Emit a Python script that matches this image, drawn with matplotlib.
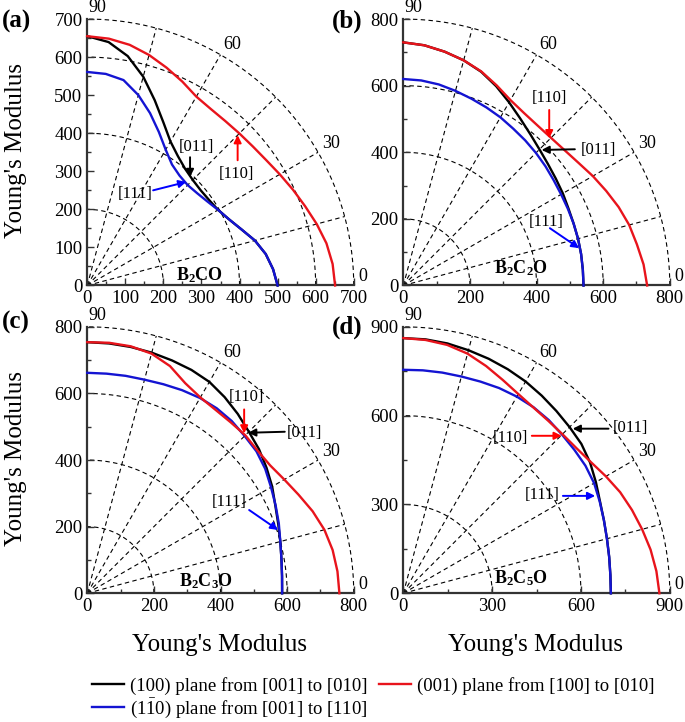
import numpy as np
import matplotlib
matplotlib.use('Agg')
import matplotlib.pyplot as plt
from matplotlib.ticker import MultipleLocator
from matplotlib.lines import Line2D

plt.rcParams['font.family'] = ['Liberation Serif', 'DejaVu Serif']
plt.rcParams['mathtext.fontset'] = 'custom'
plt.rcParams['mathtext.rm'] = 'Liberation Serif'
plt.rcParams['mathtext.it'] = 'Liberation Serif:italic'
plt.rcParams['mathtext.bf'] = 'Liberation Serif:bold'

# direction angle (deg) from x axis, 0..90
angles = [0, 5, 10, 15, 20, 25, 30, 35, 40, 45, 50, 55, 60, 65, 70, 75, 80, 85, 90]

# Young's modulus (GPa) along each angle
a_black = [500, 490, 476, 456, 431, 411, 397, 391, 389, 392, 400, 415, 437, 473, 518, 568, 612, 642, 655]
a_red = [651, 647, 638, 624, 609, 596, 584, 574, 568, 565, 564, 566, 573, 591, 609, 627, 642, 651, 655]
a_blue = [500, 490, 476, 456, 431, 411, 397, 385, 377, 373, 377, 388, 412, 445, 482, 518, 548, 558, 561]

b_black = [541, 541, 542, 543, 544, 547, 553, 559, 567, 578, 593, 612, 635, 660, 683, 700, 713, 724, 730]
b_red = [732, 724, 712, 702, 688, 672, 657, 642, 632, 627, 627, 632, 643, 663, 684, 700, 713, 724, 730]
b_blue = [541, 541, 542, 543, 544, 545, 547, 551, 557, 563, 569, 575, 583, 590, 597, 605, 613, 618, 620]

c_black = [585, 587, 592, 600, 610, 623, 641, 657, 673, 686, 703, 719, 733, 740, 744, 748, 751, 753, 754]
c_red = [757, 754, 748, 737, 720, 700, 683, 670, 667, 671, 670, 672, 679, 696, 726, 745, 753, 755, 754]
c_blue = [585, 587, 592, 600, 612, 624, 637, 652, 663, 668, 675, 678, 677, 673, 668, 664, 663, 662, 662]

d_black = [701, 702, 706, 712, 721, 733, 751, 770, 785, 794, 804, 815, 826, 835, 843, 850, 857, 861, 862]
d_red = [865, 858, 848, 835, 822, 808, 790, 773, 763, 760, 761, 766, 777, 795, 817, 838, 852, 859, 862]
d_blue = [701, 702, 706, 712, 721, 732, 744, 751, 754, 758, 764, 767, 767, 765, 761, 758, 757, 756, 755]

panels = [
    dict(tag='(a)', name=r'$\mathbf{B_2CO}$', lim=700, major=100, arcs=[200, 400, 600, 700],
         curves=[a_black, a_blue, a_red], pos=[0.1274, 0.6046, 0.389, 0.369],
         name_xy=(295, 26), tag_xy=(-0.32, 0.99),
         notes=[('[011]', (286, 364), (270, 337), (270, 285), 'black'),
                ('[110]', (391, 294), (395, 329), (395, 395), 'red'),
                ('[111]', (125, 241), (173, 250), (260, 272), 'blue')]),
    dict(tag='(b)', name=r'$\mathbf{B_2C_2O}$', lim=800, major=200, arcs=[200, 400, 600, 800],
         curves=[b_black, b_blue, b_red], pos=[0.5888, 0.6046, 0.389, 0.369],
         name_xy=(352, 52), tag_xy=(-0.27, 0.99),
         notes=[('[110]', (440, 562), (438, 527), (438, 442), 'red'),
                ('[011]', (585, 407), (515, 409), (415, 407), 'black'),
                ('[111]', (430, 192), (440, 172), (528, 112), 'blue')]),
    dict(tag='(c)', name=r'$\mathbf{B_2C_3O}$', lim=800, major=200, arcs=[200, 400, 600, 800],
         curves=[c_black, c_blue, c_red], pos=[0.1274, 0.1783, 0.389, 0.369],
         name_xy=(356, 35), tag_xy=(-0.32, 1.015),
         notes=[('[110]', (478, 590), (471, 552), (471, 480), 'red'),
                ('[011]', (653, 480), (593, 485), (483, 482), 'black'),
                ('[111]', (426, 275), (486, 250), (573, 190), 'blue')]),
    dict(tag='(d)', name=r'$\mathbf{B_2C_5O}$', lim=900, major=300, arcs=[300, 600, 900],
         curves=[d_black, d_blue, d_red], pos=[0.5888, 0.1783, 0.389, 0.369],
         name_xy=(397, 51), tag_xy=(-0.27, 1.0),
         notes=[('[110]', (361, 524), (434, 532), (535, 532), 'red'),
                ('[011]', (767, 558), (693, 556), (572, 556), 'black'),
                ('[111]', (468, 333), (539, 329), (648, 329), 'blue')]),
]

colors = ['black', '#1414d2', '#e8141c']
labels = ['(100) plane from [001] to [010]',
          r'(1$\mathrm{\bar{1}}$0) plane from [001] to [110]',
          '(001) plane from [100] to [010]']

fig = plt.figure(figsize=(6.85, 7.22), dpi=100)

th = np.radians(angles)
arc_t = np.radians(np.linspace(0, 90, 200))

for p in panels:
    ax = fig.add_axes(p['pos'])
    R = p['lim']
    # polar grid: dashed arcs and spokes
    for r in p['arcs']:
        ax.plot(r * np.cos(arc_t), r * np.sin(arc_t), color='black', lw=0.8,
                ls=(0, (4, 3)), clip_on=False, zorder=1)
    for a in [15, 30, 45, 60, 75]:
        t = np.radians(a)
        ax.plot([0, R * np.cos(t)], [0, R * np.sin(t)], color='black', lw=0.8,
                ls=(0, (4, 3)), zorder=1)
    for ang, off in [(90, (1, 2)), (60, (2, 1)), (30, (3, 0)), (0, (3, 0))]:
        t = np.radians(ang)
        ax.annotate(str(ang), xy=(R * np.cos(t), R * np.sin(t)), xytext=off,
                    textcoords='offset points', ha='left', va='bottom', fontsize=13)

    for vals, c in zip(p['curves'], colors):
        r = np.array(vals)
        ax.plot(r * np.cos(th), r * np.sin(th), color=c, lw=1.7, zorder=3,
                clip_on=False, solid_joinstyle='round')

    for txt, txy, tail, head, c in p['notes']:
        ax.text(txy[0], txy[1], txt, ha='center', va='center', fontsize=12)
        ax.annotate('', xy=head, xytext=tail,
                    arrowprops=dict(arrowstyle='-|>', color=c, lw=1.4,
                                    mutation_scale=11, shrinkA=0, shrinkB=0),
                    zorder=4)

    ax.text(p['name_xy'][0], p['name_xy'][1], p['name'], ha='center', va='center',
            fontsize=13)
    ax.text(p['tag_xy'][0], p['tag_xy'][1], p['tag'], transform=ax.transAxes,
            ha='left', va='center', fontsize=18, fontweight='bold')

    ax.set_xlim(0, R)
    ax.set_ylim(0, R)
    ax.xaxis.set_major_locator(MultipleLocator(p['major']))
    ax.yaxis.set_major_locator(MultipleLocator(p['major']))
    ax.xaxis.set_minor_locator(MultipleLocator(p['major'] / 2))
    ax.yaxis.set_minor_locator(MultipleLocator(p['major'] / 2))
    ax.tick_params(which='both', direction='in', width=1, color='#333333',
                   labelsize=13.5)
    ax.tick_params(which='major', length=5)
    ax.tick_params(which='minor', length=3)
    ax.spines['top'].set_visible(False)
    ax.spines['right'].set_visible(False)
    for s in ['left', 'bottom']:
        ax.spines[s].set_linewidth(1.6)
        ax.spines[s].set_color('#333333')
    ax.set_facecolor('none')

fig.text(16 / 685, 1 - 150 / 722, "Young's Modulus", rotation=90, ha='center',
         va='center', fontsize=18)
fig.text(16 / 685, 1 - 458 / 722, "Young's Modulus", rotation=90, ha='center',
         va='center', fontsize=18)
fig.text(220 / 685, 1 - 645 / 722, "Young's Modulus", ha='center', va='center',
         fontsize=18)
fig.text(536 / 685, 1 - 645 / 722, "Young's Modulus", ha='center', va='center',
         fontsize=18)

handles = [Line2D([], [], color=colors[0], lw=1.7),
           Line2D([], [], color=colors[1], lw=1.7),
           Line2D([], [], color=colors[2], lw=1.7)]
fig.legend(handles, labels, ncol=2, loc='center', bbox_to_anchor=(0.545, 0.033),
           frameon=False, fontsize=13.5, handlelength=1.7, handletextpad=0.35,
           columnspacing=0.6, labelspacing=0.1, borderpad=0)

fig.savefig('out.png', dpi=100)
